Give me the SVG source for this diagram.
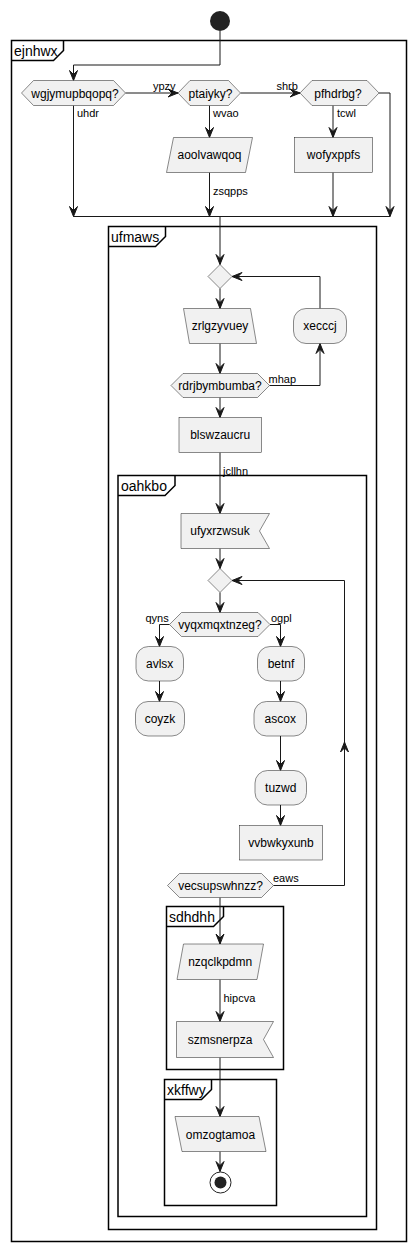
<svg xmlns="http://www.w3.org/2000/svg" width="416" height="1251" viewBox="0 0 416 1251">
<style>
.frame{fill:none;stroke:#000;stroke-width:1.5}
.tab{fill:none;stroke:#000;stroke-width:1.5}
.ftitle{font-family:"Liberation Sans",Arial,sans-serif;font-size:14px;fill:#000}
.node{fill:#F1F1F1;stroke:#181818;stroke-width:0.5}
.t{font-family:"Liberation Sans",Arial,sans-serif;font-size:12px;fill:#000;text-anchor:middle}
.lbl{font-family:"Liberation Sans",Arial,sans-serif;font-size:11px;fill:#000}
.c{fill:none;stroke:#181818;stroke-width:1}
.a{fill:none;stroke:#181818;stroke-width:1;marker-end:url(#arr)}
</style>
<defs>
<marker id="arr" markerUnits="userSpaceOnUse" markerWidth="11" markerHeight="9" refX="10" refY="4" orient="auto" overflow="visible">
<path d="M0,0 L10,4 L0,8 L4,4 Z" fill="#181818" stroke="#181818" stroke-width="1"/>
</marker>
</defs>
<rect width="416" height="1251" fill="#fff"/>

<g id="frame-ejnhwx">
<rect class="frame" x="11.5" y="40.5" width="395" height="1201"/>
<path class="tab" d="M11.5,60.5 H53.5 L63.5,50.5 V40.5"/>
<text class="ftitle" x="14" y="55.5">ejnhwx</text>
</g>
<g id="frame-ufmaws">
<rect class="frame" x="108.5" y="226.5" width="268" height="1003"/>
<path class="tab" d="M108.5,246.5 H155.5 L165.5,236.5 V226.5"/>
<text class="ftitle" x="111" y="241.5">ufmaws</text>
</g>
<g id="frame-oahkbo">
<rect class="frame" x="118" y="475.5" width="248.5" height="741"/>
<path class="tab" d="M118,495.5 H165 L175,485.5 V475.5"/>
<text class="ftitle" x="121" y="491">oahkbo</text>
</g>
<g id="frame-sdhdhh">
<rect class="frame" x="166.5" y="906.5" width="117" height="163"/>
<path class="tab" d="M166.5,926.5 H213.5 L223.5,916.5 V906.5"/>
<text class="ftitle" x="169" y="922">sdhdhh</text>
</g>
<g id="frame-xkffwy">
<rect class="frame" x="164.5" y="1079.5" width="112" height="126"/>
<path class="tab" d="M164.5,1099.5 H201.5 L211.5,1089.5 V1079.5"/>
<text class="ftitle" x="167" y="1094.5">xkffwy</text>
</g>

<g id="connectors">
<path class="a" d="M220,31 V65 H73.5 V80.5"/>
<path class="a" d="M125.5,93 H178"/>
<text class="lbl" x="153" y="89.5">ypzy</text>
<path class="a" d="M240.5,93 H300"/>
<text class="lbl" x="276.5" y="89.5">shrb</text>
<path class="c" d="M379,93 H390"/>
<path class="a" d="M390,93 V216.5"/>
<path class="a" d="M73.5,105.5 V216.5"/>
<text class="lbl" x="77" y="117">uhdr</text>
<path class="a" d="M209.5,105.5 V137.5"/>
<text class="lbl" x="213" y="117">wvao</text>
<path class="a" d="M333,105.5 V137.5"/>
<text class="lbl" x="337" y="117">tcwl</text>
<path class="a" d="M209.5,172.5 V216.5"/>
<text class="lbl" x="213" y="195">zsqpps</text>
<path class="a" d="M333,172.5 V216.5"/>
<path class="c" d="M73.5,216.5 H390"/>
<path class="a" d="M220,216.5 V264.5"/>
<path class="a" d="M220,288.5 V308.5"/>
<path class="a" d="M220,343.5 V373.5"/>
<path class="a" d="M269.5,385.5 H320 V343.5"/>
<text class="lbl" x="268.5" y="383">mhap</text>
<path class="a" d="M320,308.5 V276.5 H232"/>
<path class="a" d="M220,397.5 V417.5"/>
<path class="a" d="M220,452.5 V513.5"/>
<text class="lbl" x="223" y="475">jcllhn</text>
<path class="a" d="M220,548.5 V568.5"/>
<path class="a" d="M220,592.5 V612.5"/>
<path class="a" d="M169.5,624.5 H159.5 V646.5"/>
<text class="lbl" x="145.5" y="622">qyns</text>
<path class="a" d="M270,624.5 H280.5 V646.5"/>
<text class="lbl" x="271" y="622">ogpl</text>
<path class="a" d="M159.5,681 V701.5"/>
<path class="a" d="M280.5,681 V701.5"/>
<path class="a" d="M280.5,736 V770.5"/>
<path class="a" d="M280.5,805 V825.5"/>
<path class="a" d="M273.5,885.5 H344.5 V742"/>
<path class="a" d="M344.5,742 V580.5 H232"/>
<text class="lbl" x="273" y="882">eaws</text>
<path class="a" d="M220,897.5 V944"/>
<path class="a" d="M220,979.5 V1021.5"/>
<text class="lbl" x="223.5" y="1002">hipcva</text>
<path class="a" d="M220,1057.5 V1116.5"/>
<path class="a" d="M220,1151.5 V1171.5"/>
</g>

<g id="start"><circle cx="220" cy="21" r="10" fill="#222"/></g>

<g id="n-wgjymupbqopq">
<polygon class="node" points="21.5,93 33.5,80.5 113.5,80.5 125.5,93 113.5,105.5 33.5,105.5"/>
<text class="t" x="75" y="97.5">wgjymupbqopq?</text>
</g>
<g id="n-ptaiyky">
<polygon class="node" points="178,93 190,80.5 228.5,80.5 240.5,93 228.5,105.5 190,105.5"/>
<text class="t" x="210.5" y="97.5">ptaiyky?</text>
</g>
<g id="n-pfhdrbg">
<polygon class="node" points="300,93 312,80.5 367,80.5 379,93 367,105.5 312,105.5"/>
<text class="t" x="338" y="97.5">pfhdrbg?</text>
</g>
<g id="n-aoolvawqoq">
<polygon class="node" points="173.5,137.5 252.5,137.5 245.5,172.5 166.5,172.5"/>
<text class="t" x="209.5" y="159">aoolvawqoq</text>
</g>
<g id="n-wofyxppfs">
<rect class="node" x="294.5" y="137.5" width="78" height="35"/>
<text class="t" x="333.5" y="159">wofyxppfs</text>
</g>
<g id="n-merge1">
<polygon class="node" points="220,264.5 232,276.5 220,288.5 208,276.5"/>
</g>
<g id="n-zrlgzyvuey">
<polygon class="node" points="183.5,308.5 250.5,308.5 256.5,343.5 189.5,343.5"/>
<text class="t" x="220" y="330">zrlgzyvuey</text>
</g>
<g id="n-xecccj">
<rect class="node" x="293.5" y="308.5" width="53" height="35" rx="12.5"/>
<text class="t" x="320" y="330">xecccj</text>
</g>
<g id="n-rdrjbymbumba">
<polygon class="node" points="171,385.5 183,373.5 257.5,373.5 269.5,385.5 257.5,397.5 183,397.5"/>
<text class="t" x="220" y="389.5">rdrjbymbumba?</text>
</g>
<g id="n-blswzaucru">
<rect class="node" x="179" y="417.5" width="82.5" height="35"/>
<text class="t" x="220.2" y="439">blswzaucru</text>
</g>
<g id="n-ufyxrzwsuk">
<polygon class="node" points="181,513.5 269.5,513.5 259.5,531 269.5,548.5 181,548.5"/>
<text class="t" x="220" y="535">ufyxrzwsuk</text>
</g>
<g id="n-merge2">
<polygon class="node" points="220,568.5 232,580.5 220,592.5 208,580.5"/>
</g>
<g id="n-vyqxmqxtnzeg">
<polygon class="node" points="169.5,624.5 181.5,612.5 258,612.5 270,624.5 258,636.5 181.5,636.5"/>
<text class="t" x="220" y="628.5">vyqxmqxtnzeg?</text>
</g>
<g id="n-avlsx">
<rect class="node" x="136" y="646.5" width="47.5" height="34.5" rx="12.5"/>
<text class="t" x="159.7" y="668">avlsx</text>
</g>
<g id="n-coyzk">
<rect class="node" x="135.5" y="701.5" width="49" height="34.5" rx="12.5"/>
<text class="t" x="160" y="723">coyzk</text>
</g>
<g id="n-betnf">
<rect class="node" x="257.5" y="646.5" width="47" height="34.5" rx="12.5"/>
<text class="t" x="281" y="668">betnf</text>
</g>
<g id="n-ascox">
<rect class="node" x="254" y="701.5" width="52.5" height="34.5" rx="12.5"/>
<text class="t" x="280.3" y="723">ascox</text>
</g>
<g id="n-tuzwd">
<rect class="node" x="255" y="770.5" width="51.5" height="34.5" rx="12.5"/>
<text class="t" x="280.8" y="792">tuzwd</text>
</g>
<g id="n-vvbwkyxunb">
<rect class="node" x="239.5" y="825.5" width="83" height="34.5"/>
<text class="t" x="281" y="847">vvbwkyxunb</text>
</g>
<g id="n-vecsupswhnzz">
<polygon class="node" points="167.5,885.5 179.5,873.5 261.5,873.5 273.5,885.5 261.5,897.5 179.5,897.5"/>
<text class="t" x="220.5" y="889.5">vecsupswhnzz?</text>
</g>
<g id="n-nzqclkpdmn">
<polygon class="node" points="183.5,944 263.5,944 257,979.5 177,979.5"/>
<text class="t" x="220.2" y="966">nzqclkpdmn</text>
</g>
<g id="n-szmsnerpza">
<polygon class="node" points="176.5,1021.5 273.5,1021.5 263.5,1039.5 273.5,1057.5 176.5,1057.5"/>
<text class="t" x="220" y="1044">szmsnerpza</text>
</g>
<g id="n-omzogtamoa">
<polygon class="node" points="175,1116.5 259,1116.5 266,1151.5 182,1151.5"/>
<text class="t" x="220.5" y="1138.5">omzogtamoa</text>
</g>
<g id="end">
<circle cx="220.5" cy="1182.5" r="10.5" fill="none" stroke="#222" stroke-width="1"/>
<circle cx="220.5" cy="1182.5" r="6" fill="#222"/>
</g>
</svg>
